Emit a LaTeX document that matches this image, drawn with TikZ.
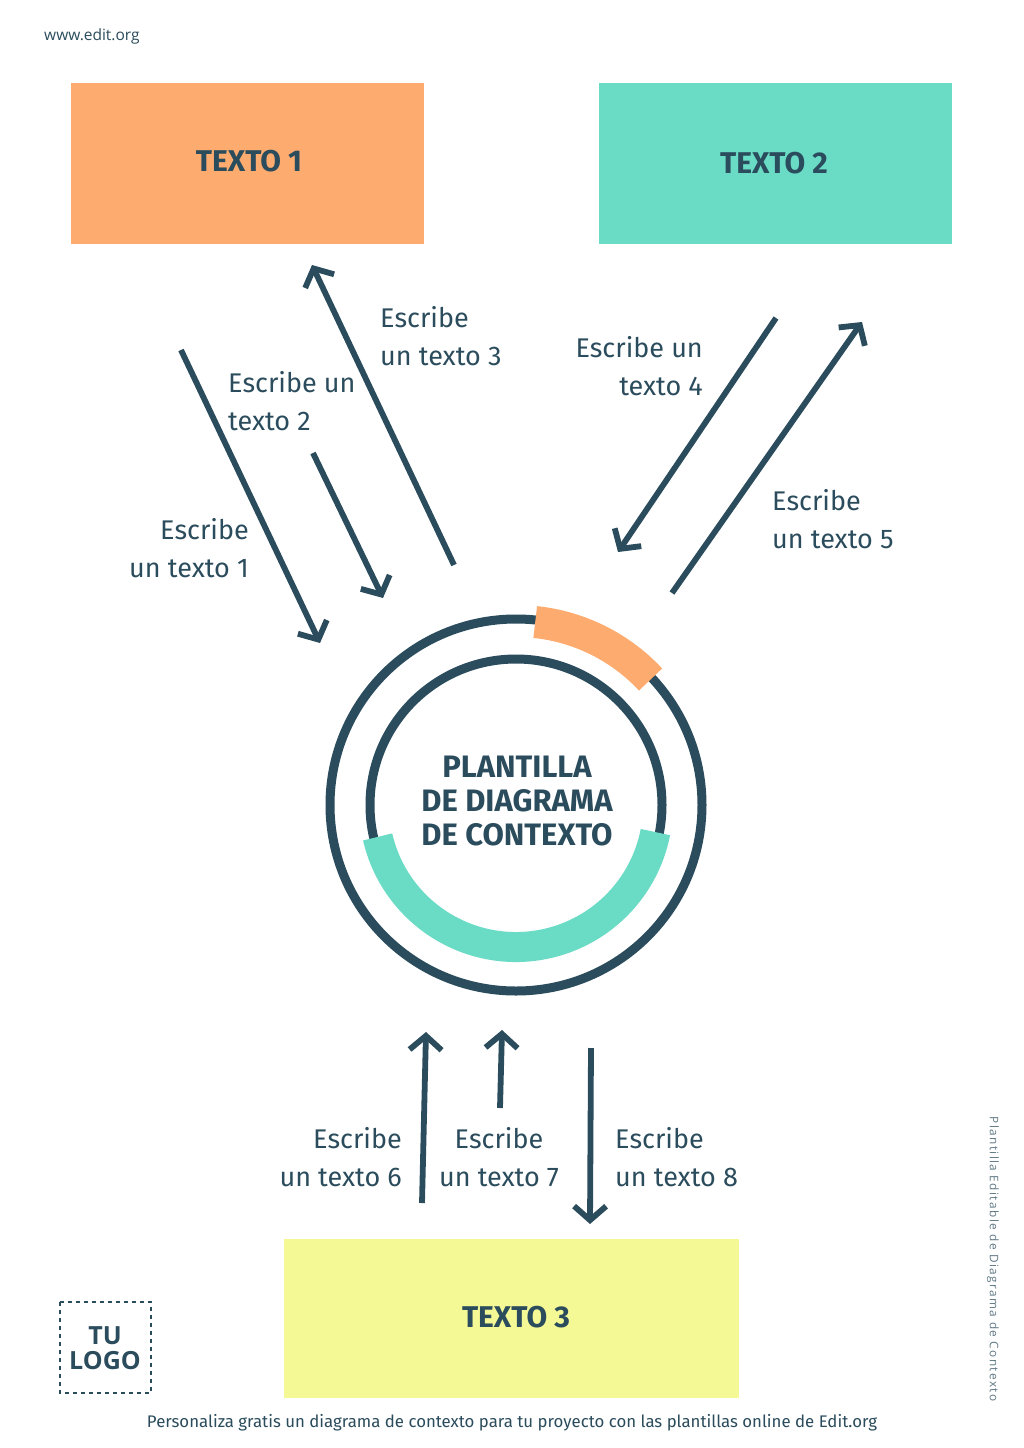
\documentclass[tikz,border=0pt]{standalone}
\usepackage{fontspec}
\setmainfont{Fira Sans}
\newfontfamily\opensans{Open Sans}
\usetikzlibrary{arrows.meta}
\definecolor{dk}{HTML}{2B4C5C}
\definecolor{org}{HTML}{FDAB6F}
\definecolor{tea}{HTML}{6ADBC5}
\definecolor{yel}{HTML}{F5F995}
\tikzset{
  box/.style={inner sep=0pt, anchor=north west},
  boxlbl/.style={text=dk, font=\fontsize{30}{34}\selectfont\bfseries},
  flow/.style={draw=dk, line width=5.8pt, -{Straight Barb[length=14pt,width=32pt,line width=5.8pt]}},
  lbl/.style={text=dk, font=\fontsize{27}{38}\selectfont, inner sep=0pt},
}
\begin{document}
\begin{tikzpicture}[x=1pt,y=-1pt]
\useasboundingbox (0,0) rectangle (1024,1448);
\fill[white] (0,0) rectangle (1024,1448);

% header
\node[text=dk, font=\opensans\fontsize{15.5}{17}\selectfont, anchor=west, inner sep=0pt] (web) at (44,36) {www.edit.org};

% boxes
\fill[org] (71,83) rectangle (424,244);
\node[boxlbl] (t1) at (249,161) {TEXTO 1};
\fill[tea] (599,83) rectangle (952,244);
\node[boxlbl] (t2) at (774,163) {TEXTO 2};
\fill[yel] (284,1239) rectangle (739,1398);
\node[boxlbl] (t3) at (516,1317) {TEXTO 3};

% circle
\coordinate (c) at (516,805);
\draw[dk, line width=9pt] (c) circle[radius=186];
\draw[dk, line width=9pt] (c) circle[radius=146];
\draw[org, line width=32pt] ([shift={(-84:184)}]c) arc[start angle=-84, end angle=-43, radius=184];
\draw[tea, line width=30pt] ([shift={(-193:142)}]c) arc[start angle=-193, end angle=-349, radius=142];
\node[text=dk, font=\fontsize{31}{34}\selectfont\bfseries, align=center] (ctr) at (517,801) {PLANTILLA\\DE DIAGRAMA\\DE CONTEXTO};

% arrow endpoints
\coordinate (a1s) at (181,350); \coordinate (a1e) at (320,643);
\coordinate (a2s) at (313,453); \coordinate (a2e) at (383,598);
\coordinate (a3s) at (454,565); \coordinate (a3e) at (312,265);
\coordinate (a4s) at (776,318); \coordinate (a4e) at (618,552);
\coordinate (a5s) at (672,593); \coordinate (a5e) at (862,322);
\coordinate (a6s) at (422,1203); \coordinate (a6e) at (426,1032);
\coordinate (a7s) at (500,1108); \coordinate (a7e) at (502,1030);
\coordinate (a8s) at (591,1048); \coordinate (a8e) at (590,1224);

\draw[flow] (a1s) -- (a1e);
\draw[flow] (a2s) -- (a2e);
\draw[flow] (a3s) -- (a3e);
\draw[flow] (a4s) -- (a4e);
\draw[flow] (a5s) -- (a5e);
\draw[flow] (a6s) -- (a6e);
\draw[flow] (a7s) -- (a7e);
\draw[flow] (a8s) -- (a8e);

% labels
\node[lbl, align=left, anchor=west] (l3) at (380,336) {Escribe\\un texto 3};
\node[lbl, align=left, anchor=west] (l2) at (228,401) {Escribe un\\texto 2};
\node[lbl, align=right, anchor=east] (l1) at (249,548) {Escribe\\un texto 1};
\node[lbl, align=right, anchor=east] (l4) at (703,366) {Escribe un\\texto 4};
\node[lbl, align=left, anchor=west] (l5) at (772,519) {Escribe\\un texto 5};
\node[lbl, align=right, anchor=east] (l6) at (402,1157) {Escribe\\un texto 6};
\node[lbl, align=center] (l7) at (499,1157) {Escribe\\un texto 7};
\node[lbl, align=left, anchor=west] (l8) at (615,1157) {Escribe\\un texto 8};

% logo
\draw[dk, line width=1.6pt, dash pattern=on 4pt off 4pt] (60,1302) rectangle (151,1393);
\node[text=dk, font=\opensans\fontsize{25}{25}\selectfont\bfseries, align=center] (logo) at (105,1348) {TU\\LOGO};

% side text
\node[text=dk!75, font=\opensans\fontsize{11.8}{13}\selectfont, rotate=-90, inner sep=0pt] (side) at (993,1259) {\addfontfeature{LetterSpace=12}Plantilla Editable de Diagrama de Contexto};

% footer
\node[text=dk, font=\fontsize{16.8}{19}\selectfont, inner sep=0pt] (foot) at (512,1423) {Personaliza gratis un diagrama de contexto para tu proyecto con las plantillas online de Edit.org};
\end{tikzpicture}
\end{document}
